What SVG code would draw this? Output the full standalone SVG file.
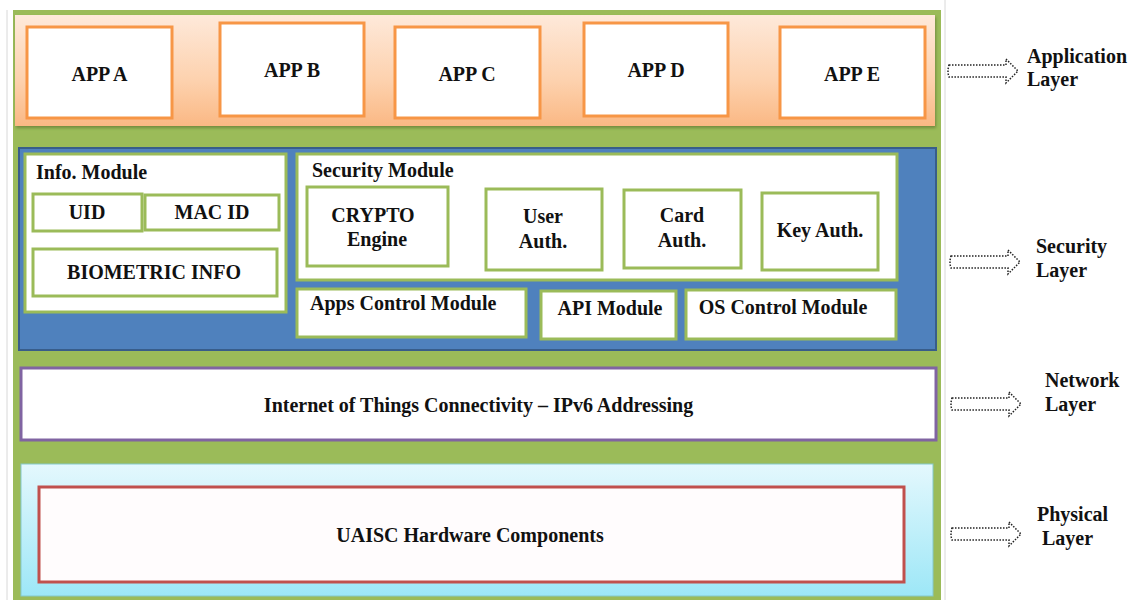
<svg xmlns="http://www.w3.org/2000/svg" width="1134" height="600" viewBox="0 0 1134 600" font-family="'Liberation Serif', 'DejaVu Serif', 'Times New Roman', serif">
<defs>
<linearGradient id="gOrange" x1="0" y1="0" x2="0" y2="1">
<stop offset="0" stop-color="#fee9da"/>
<stop offset="0.6" stop-color="#fdd1ad"/>
<stop offset="1" stop-color="#fab884"/>
</linearGradient>
<linearGradient id="gCyan" x1="0" y1="0" x2="0" y2="1">
<stop offset="0" stop-color="#e4f8fd"/>
<stop offset="1" stop-color="#9de7f7"/>
</linearGradient>
<filter id="sh" x="-5%" y="-10%" width="110%" height="130%">
<feDropShadow dx="1" dy="2" stdDeviation="1.5" flood-color="#556b2f" flood-opacity="0.6"/>
</filter>
</defs>
<style>
text{font-family:'Liberation Serif','DejaVu Serif','Times New Roman',serif;font-weight:bold;fill:#111;font-size:20px}
.c{text-anchor:middle}
.app{fill:#fff;stroke:#f79646;stroke-width:3}
.mod{fill:#fff;stroke:#9bbb59;stroke-width:3}
.arrow{fill:none;stroke:#222;stroke-width:1.5;stroke-dasharray:1.5 1.5}
</style>
<rect x="0" y="0" width="1134" height="600" fill="#fff"/>
<line x1="7" y1="10" x2="7" y2="600" stroke="#d8d8d8" stroke-width="1"/>
<line x1="945" y1="0" x2="945" y2="600" stroke="#d8d8d8" stroke-width="1"/>
<rect x="13" y="10" width="928" height="592" fill="#9bbb59"/>

<g id="application-layer">
<rect x="15" y="15" width="920" height="111" fill="url(#gOrange)" filter="url(#sh)"/>
<g id="app-a"><rect class="app" x="27" y="27" width="145" height="91"/><text class="c" x="99.5" y="81" font-size="19">APP A</text></g>
<g id="app-b"><rect class="app" x="220" y="23" width="144" height="93"/><text class="c" x="292" y="77" font-size="19">APP B</text></g>
<g id="app-c"><rect class="app" x="395" y="27" width="145" height="91"/><text class="c" x="467" y="81" font-size="19">APP C</text></g>
<g id="app-d"><rect class="app" x="584" y="23" width="144" height="93"/><text class="c" x="656" y="77" font-size="19">APP D</text></g>
<g id="app-e"><rect class="app" x="780" y="27" width="145" height="91"/><text class="c" x="852" y="81" font-size="19">APP E</text></g>
</g>

<g id="security-layer">
<rect x="19" y="148" width="917" height="202" fill="#4f81bd" stroke="#385d8a" stroke-width="2"/>
<g id="info-module">
<rect class="mod" x="25" y="154" width="261" height="158"/>
<text x="36" y="179">Info. Module</text>
<g id="uid"><rect class="mod" x="33" y="194" width="109" height="37"/><text class="c" x="87" y="219" font-size="18">UID</text></g>
<g id="mac-id"><rect class="mod" x="145" y="195" width="134" height="35"/><text class="c" x="212" y="219" font-size="19">MAC ID</text></g>
<g id="biometric-info"><rect class="mod" x="33" y="249" width="244" height="47"/><text class="c" x="154" y="279" font-size="18">BIOMETRIC INFO</text></g>
</g>
<g id="security-module">
<rect class="mod" x="297" y="154" width="600" height="126"/>
<text x="312" y="177">Security Module</text>
<g id="crypto-engine"><rect class="mod" x="307" y="187" width="141" height="79"/><text class="c" x="373" y="222" font-size="20">CRYPTO</text><text class="c" x="377" y="246">Engine</text></g>
<g id="user-auth"><rect class="mod" x="486" y="189" width="116" height="81"/><text class="c" x="543" y="223">User</text><text class="c" x="543" y="248">Auth.</text></g>
<g id="card-auth"><rect class="mod" x="624" y="190" width="117" height="78"/><text class="c" x="682" y="222">Card</text><text class="c" x="682" y="247">Auth.</text></g>
<g id="key-auth"><rect class="mod" x="762" y="193" width="116" height="77"/><text class="c" x="820" y="237">Key Auth.</text></g>
</g>
<g id="apps-control-module"><rect class="mod" x="297" y="289" width="229" height="48"/><text x="310" y="310">Apps Control Module</text></g>
<g id="api-module"><rect class="mod" x="541" y="291" width="135" height="48"/><text class="c" x="610" y="315" font-size="18">API Module</text></g>
<g id="os-control-module"><rect class="mod" x="686" y="290" width="210" height="49"/><text class="c" x="783" y="314">OS Control Module</text></g>
</g>

<g id="network-layer">
<rect x="21" y="368" width="915" height="72" fill="#fff" stroke="#8064a2" stroke-width="3"/>
<text class="c" x="478.5" y="412">Internet of Things Connectivity – IPv6 Addressing</text>
</g>

<g id="physical-layer">
<rect x="21" y="464" width="912" height="132" fill="url(#gCyan)" stroke="#86c9c9" stroke-width="1"/>
<g id="hardware-components">
<rect x="39" y="487" width="865" height="95" fill="#fffcfd" stroke="#c0504d" stroke-width="3"/>
<text class="c" x="470" y="542">UAISC Hardware Components</text>
</g>
</g>

<g id="connectors">
<path class="arrow" d="M949,65 L1006,65 L1006,59 Q1012,65 1018,71 Q1012,77 1006,83 L1006,77 L949,77 Q947,71 949,65 Z"/>
<path class="arrow" d="M951,256 L1008,256 L1008,250 Q1014,256 1020,262 Q1014,268 1008,274 L1008,268 L951,268 Q949,262 951,256 Z"/>
<path class="arrow" d="M952,398 L1009,398 L1009,392 Q1015,398 1021,404 Q1015,410 1009,416 L1009,410 L952,410 Q950,404 952,398 Z"/>
<path class="arrow" d="M952,528 L1009,528 L1009,522 Q1015,528 1021,534 Q1015,540 1009,546 L1009,540 L952,540 Q950,534 952,528 Z"/>
</g>

<g id="layer-labels">
<text x="1027" y="63">Application</text><text x="1027" y="86">Layer</text>
<text x="1036" y="253">Security</text><text x="1036" y="277">Layer</text>
<text x="1045" y="387">Network</text><text x="1045" y="411">Layer</text>
<text x="1037" y="521">Physical</text><text x="1042" y="545">Layer</text>
</g>
</svg>
